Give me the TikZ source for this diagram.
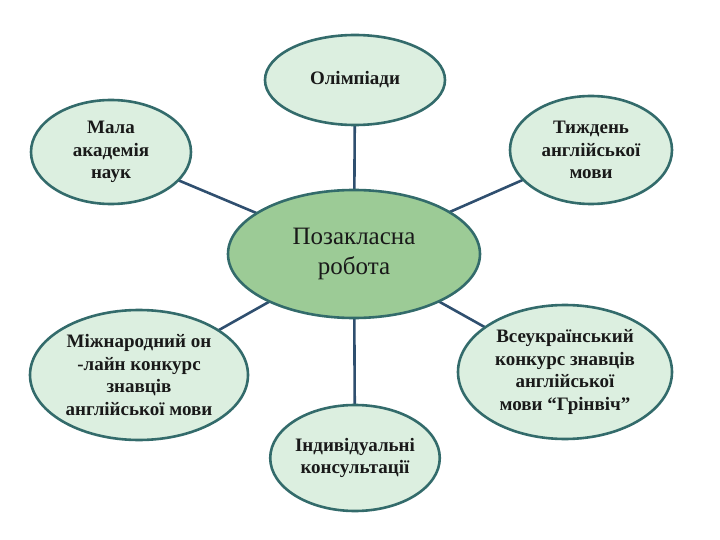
\documentclass[tikz,border=0pt]{standalone}
\usepackage{fontspec}
\setmainfont{Liberation Serif}
\usetikzlibrary{shapes.geometric}
\definecolor{bord}{HTML}{336B6B}
\definecolor{lfill}{HTML}{DCEFE0}
\definecolor{cfill}{HTML}{9CCB96}
\definecolor{conn}{HTML}{2F4F6F}
\begin{document}
\begin{tikzpicture}[x=1pt,y=-1pt,
  bub/.style={ellipse,draw=bord,line width=2.6pt,fill=lfill,inner sep=0pt,align=center,font=\fontsize{19}{22.5}\selectfont\bfseries,text=black!90},
  link/.style={draw=conn,line width=2.6pt}]
\useasboundingbox (0,0) rectangle (720,540);
\coordinate (c) at (354,254);
\coordinate (p1) at (355,80);
\coordinate (p2) at (111,152);
\coordinate (p3) at (591,150);
\coordinate (p4) at (139,375);
\coordinate (p5) at (565,372);
\coordinate (p6) at (355,458);
\foreach \p in {p1,p2,p3,p4,p5,p6} \draw[link] (c) -- (\p);
\node[bub,minimum width=180pt,minimum height=90pt] (o) at (p1) {Олімпіади};
\node[bub,minimum width=160pt,minimum height=104pt] (m) at (p2) {Мала\\академія\\наук};
\node[bub,minimum width=162pt,minimum height=108pt] (t) at (p3) {Тиждень\\англійської\\мови};
\node[bub,minimum width=218pt,minimum height=130pt] (l) at (p4) {Міжнародний он\\-лайн конкурс\\знавців\\англійської мови};
\node[bub,minimum width=214pt,minimum height=134pt] (r) at (p5) {Всеукраїнський\\конкурс знавців\\англійської\\мови “Грінвіч”};
\node[bub,minimum width=146pt,minimum height=106pt] (b) at (p6) {Індивідуальні\\консультації};
\node[bub,fill=cfill,minimum width=252pt,minimum height=128pt,font=\fontsize{25}{30}\selectfont] (cn) at (c) {Позакласна\\робота};
\end{tikzpicture}
\end{document}
